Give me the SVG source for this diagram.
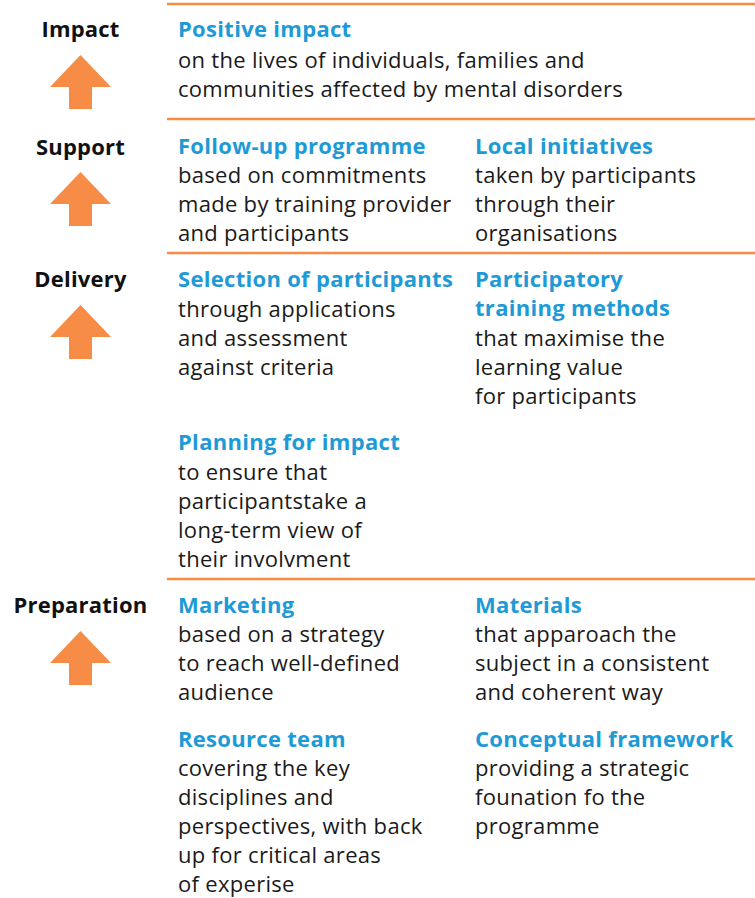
<svg xmlns="http://www.w3.org/2000/svg" width="755" height="898" viewBox="0 0 755 898">
  <style>
    .lvl { font-family: "Open Sans", "Liberation Sans", sans-serif; font-size: 22px; font-weight: 700; letter-spacing: 0.2px; fill: #111; text-anchor: middle; }
    .ttl { font-family: "Open Sans", "Liberation Sans", sans-serif; font-size: 22px; font-weight: 700; letter-spacing: 0.3px; fill: #1e9ad6; }
    .txt { font-family: "Open Sans", "Liberation Sans", sans-serif; font-size: 22px; font-weight: 400; letter-spacing: 0.3px; fill: #1a1a1a; }
    .rule { stroke: #f58b45; stroke-width: 2.5; }
    .up { fill: #f68c45; }
  </style>
  <defs>
    <path id="up-arrow" class="up" d="M0,0 L30.5,32 L11.5,32 L11.5,54 L-11.5,54 L-11.5,32 L-30.5,32 Z"/>
  </defs>

  <!-- horizontal dividers between levels -->
  <g id="dividers">
    <line class="rule" x1="167" y1="4" x2="755" y2="4"/>
    <line class="rule" x1="167" y1="119" x2="755" y2="119"/>
    <line class="rule" x1="167" y1="253" x2="755" y2="253"/>
    <line class="rule" x1="167" y1="579" x2="755" y2="579"/>
  </g>

  <!-- level labels with upward arrows -->
  <g id="level-impact">
    <text class="lvl" x="80.5" y="37">Impact</text>
    <use href="#up-arrow" x="80.5" y="55"/>
  </g>
  <g id="level-support">
    <text class="lvl" x="80.5" y="155">Support</text>
    <use href="#up-arrow" x="80.5" y="172"/>
  </g>
  <g id="level-delivery">
    <text class="lvl" x="80.5" y="287">Delivery</text>
    <use href="#up-arrow" x="80.5" y="305"/>
  </g>
  <g id="level-preparation">
    <text class="lvl" x="80.5" y="613">Preparation</text>
    <use href="#up-arrow" x="80.5" y="631"/>
  </g>

  <!-- Impact -->
  <g id="positive-impact">
    <text class="ttl" x="178" y="37">Positive impact</text>
    <text class="txt" x="178" y="68">on the lives of individuals, families and</text>
    <text class="txt" x="178" y="97">communities affected by mental disorders</text>
  </g>

  <!-- Support -->
  <g id="follow-up">
    <text class="ttl" x="178" y="154">Follow-up programme</text>
    <text class="txt" x="178" y="183">based on commitments</text>
    <text class="txt" x="178" y="212">made by training provider</text>
    <text class="txt" x="178" y="241">and participants</text>
  </g>
  <g id="local-initiatives">
    <text class="ttl" x="475" y="154">Local initiatives</text>
    <text class="txt" x="475" y="183">taken by participants</text>
    <text class="txt" x="475" y="212">through their</text>
    <text class="txt" x="475" y="241">organisations</text>
  </g>

  <!-- Delivery -->
  <g id="selection">
    <text class="ttl" x="178" y="287">Selection of participants</text>
    <text class="txt" x="178" y="317">through applications</text>
    <text class="txt" x="178" y="346">and assessment</text>
    <text class="txt" x="178" y="375">against criteria</text>
  </g>
  <g id="participatory-training">
    <text class="ttl" x="475" y="287">Participatory</text>
    <text class="ttl" x="475" y="316">training methods</text>
    <text class="txt" x="475" y="346">that maximise the</text>
    <text class="txt" x="475" y="375">learning value</text>
    <text class="txt" x="475" y="404">for participants</text>
  </g>
  <g id="planning-for-impact">
    <text class="ttl" x="178" y="450">Planning for impact</text>
    <text class="txt" x="178" y="480">to ensure that</text>
    <text class="txt" x="178" y="509">participantstake a</text>
    <text class="txt" x="178" y="538">long-term view of</text>
    <text class="txt" x="178" y="567">their involvment</text>
  </g>

  <!-- Preparation -->
  <g id="marketing">
    <text class="ttl" x="178" y="613">Marketing</text>
    <text class="txt" x="178" y="642">based on a strategy</text>
    <text class="txt" x="178" y="671">to reach well-defined</text>
    <text class="txt" x="178" y="700">audience</text>
  </g>
  <g id="materials">
    <text class="ttl" x="475" y="613">Materials</text>
    <text class="txt" x="475" y="642">that apparoach the</text>
    <text class="txt" x="475" y="671">subject in a consistent</text>
    <text class="txt" x="475" y="700">and coherent way</text>
  </g>
  <g id="resource-team">
    <text class="ttl" x="178" y="747">Resource team</text>
    <text class="txt" x="178" y="776">covering the key</text>
    <text class="txt" x="178" y="805">disciplines and</text>
    <text class="txt" x="178" y="834">perspectives, with back</text>
    <text class="txt" x="178" y="863">up for critical areas</text>
    <text class="txt" x="178" y="892">of experise</text>
  </g>
  <g id="conceptual-framework">
    <text class="ttl" x="475" y="747">Conceptual framework</text>
    <text class="txt" x="475" y="776">providing a strategic</text>
    <text class="txt" x="475" y="805">founation fo the</text>
    <text class="txt" x="475" y="834">programme</text>
  </g>

  <!-- connectors: none drawn -->
  <g id="connectors"/>
</svg>
